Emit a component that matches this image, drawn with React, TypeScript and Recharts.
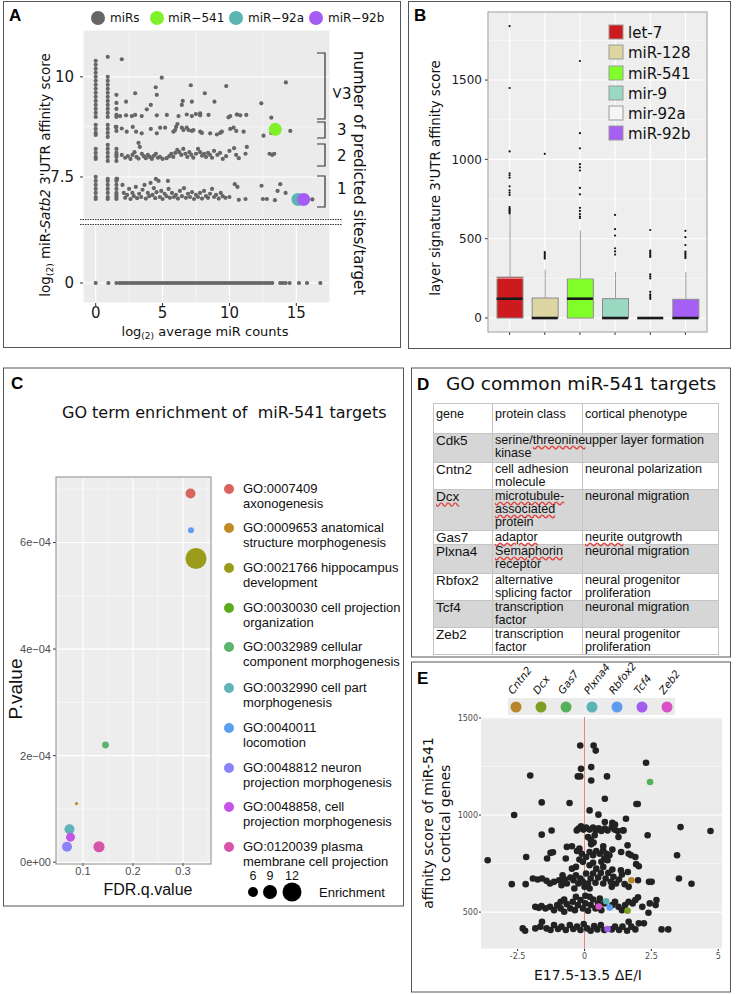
import React from "react";
import {
  Bar,
  CartesianGrid,
  Cell,
  ComposedChart,
  ReferenceLine,
  Scatter,
  ScatterChart,
  XAxis,
  YAxis,
  ZAxis
} from "recharts";

const DJ = "'DejaVu Sans', sans-serif";
const HV = "'Liberation Sans', Arial, sans-serif";

// ---------- Panel A: miR affinity vs. counts ----------
const aColumnX = [0, 0.9, 1.55];
const aColumn0 = [10.4, 10.3, 10.2, 10.1, 10.0, 9.9, 9.8, 9.7, 9.6, 9.5, 9.4, 9.3, 9.2, 9.1, 9.0, 8.8, 8.7, 8.6, 8.55, 8.2, 8.1, 8.0, 7.95, 7.5, 7.4, 7.3, 7.2, 7.1, 7.0, 6.95];
const aColumn1 = [10.5, 10.0, 9.9, 9.8, 9.7, 9.6, 9.5, 9.4, 9.3, 9.2, 9.1, 9.0, 8.8, 8.7, 8.6, 8.5, 8.3, 8.2, 8.1, 8.0, 7.9, 7.45, 7.4, 7.3, 7.2, 7.1, 7.0, 6.95];
const aColumn2 = [9.55, 9.35, 9.2, 9.05, 9.0, 8.75, 8.65, 8.2, 8.1, 8.05, 8.0, 7.9, 7.45, 7.4, 7.3, 7.2, 7.1, 7.05, 7.0, 6.95];
const aSitesMore: [number, number][] = [
  [1.95, 10.44], [2.27, 9.38], [2.95, 9.59], [3.82, 9.19], [4.12, 9.3], [4.49, 9.74], [4.57, 9.55], [4.94, 9.98],
  [6.44, 9.3], [6.51, 9.4], [7.11, 9.79], [7.19, 9.38], [7.49, 9.07], [7.81, 9.09], [8.16, 9.59], [8.88, 9.38],
  [9.76, 9.77], [9.93, 8.99], [10.56, 9.06], [12.38, 9.34], [13.13, 8.98], [14.22, 9.86],
  [1.82, 9.02], [2.27, 9.04], [2.7, 9.02], [2.95, 9.05], [3.44, 9.02], [4.57, 9.04], [5.32, 9.05], [6.19, 9.02],
  [6.81, 9.06], [7.19, 9.02], [7.81, 9.04], [8.44, 9.05], [10.06, 9.02], [10.56, 9.06], [10.81, 9.04], [11.26, 9.05]
];
const aSites3: [number, number][] = [
  [1.5, 8.75], [1.95, 8.71], [2.32, 8.63], [2.77, 8.75], [3.02, 8.63], [3.44, 8.59], [4.12, 8.7], [4.57, 8.59],
  [4.82, 8.73], [5.19, 8.73], [5.81, 8.63], [5.94, 8.67], [6.01, 8.75], [6.11, 8.82], [6.44, 8.73], [6.56, 8.67],
  [6.81, 8.73], [6.94, 8.67], [7.19, 8.65], [7.31, 8.67], [7.81, 8.63], [7.94, 8.6], [8.56, 8.59], [9.06, 8.56],
  [9.31, 8.6], [9.43, 8.63], [10.06, 8.7], [10.31, 8.73], [10.51, 8.65], [11.06, 8.63], [12.55, 8.53], [13.13, 8.6],
  [14.55, 8.65]
];
const aSites2: [number, number][] = [
  [1.95, 8.05], [2.2, 7.98], [2.4, 8.02], [2.6, 7.95], [2.75, 8.05], [2.9, 8.12], [3.05, 8.0], [3.2, 7.96],
  [3.3, 8.25], [3.45, 8.08], [3.6, 8.02], [3.75, 7.97], [3.9, 8.05], [4.05, 8.0], [4.2, 7.95], [4.35, 8.03],
  [4.5, 8.08], [4.65, 7.98], [4.8, 8.0], [5.0, 7.95], [5.3, 7.97], [5.5, 8.02], [5.65, 8.08], [5.8, 8.0],
  [5.95, 8.1], [6.1, 8.18], [6.25, 8.12], [6.4, 8.05], [6.55, 8.2], [6.7, 8.08], [6.85, 8.0], [7.0, 8.12],
  [7.15, 8.05], [7.3, 7.98], [7.5, 8.08], [7.65, 8.2], [7.8, 8.12], [7.95, 8.03], [8.1, 8.08], [8.25, 8.0],
  [8.4, 8.1], [8.55, 8.05], [8.7, 7.98], [8.85, 8.15], [9.1, 8.05], [9.3, 8.1], [9.5, 7.95], [9.75, 8.02],
  [10.0, 8.15], [10.35, 8.22], [10.5, 8.05], [10.7, 7.97], [11.3, 8.25], [11.2, 8.08], [13.0, 8.08], [13.2, 8.05],
  [13.35, 8.08], [3.2, 8.35]
];
const aSites1: [number, number][] = [
  [2.0, 7.3], [2.1, 7.1], [2.2, 6.98], [2.35, 7.05], [2.5, 7.2], [2.6, 6.95], [2.75, 7.1], [2.85, 7.02],
  [3.0, 7.25], [3.1, 6.97], [3.25, 7.08], [3.4, 7.0], [3.5, 7.18], [3.65, 7.3], [3.75, 6.96], [3.9, 7.1],
  [4.0, 7.02], [4.1, 7.35], [4.25, 7.05], [4.35, 7.22], [4.45, 6.97], [4.55, 7.12], [4.7, 7.4], [4.8, 7.0],
  [4.9, 7.15], [5.0, 6.95], [5.15, 7.08], [5.3, 7.02], [5.45, 7.2], [5.55, 6.98], [5.7, 7.1], [5.85, 7.0],
  [6.0, 7.05], [6.15, 6.96], [6.3, 7.15], [6.45, 7.02], [6.6, 7.22], [6.75, 6.98], [6.9, 7.08], [7.05, 7.0],
  [7.2, 7.12], [7.35, 6.95], [7.5, 7.05], [7.65, 7.0], [7.8, 7.1], [7.95, 6.96], [8.1, 7.15], [8.25, 7.02],
  [8.4, 6.98], [8.55, 7.08], [8.7, 7.2], [8.85, 7.0], [9.0, 7.05], [9.2, 6.96], [9.35, 7.1], [9.5, 7.02],
  [9.7, 6.98], [10.0, 7.0], [10.4, 7.32], [10.6, 7.25], [10.7, 6.93], [11.2, 6.95], [12.4, 7.28], [12.5, 6.95],
  [12.8, 6.95], [13.4, 6.92], [13.6, 7.15], [13.8, 7.32], [14.2, 7.1], [16.2, 6.94], [1.6, 7.45], [4.5, 7.45],
  [5.4, 7.4]
];
const aZeroRowX = [0, 0.95, 1.55, 1.8, 2.0, 2.2, 2.4, 2.6, 2.8, 3.0, 3.2, 3.4, 3.6, 3.8, 4.0, 4.2, 4.4, 4.6, 4.8, 5.0, 5.2, 5.4, 5.6, 5.8, 6.0, 6.2, 6.4, 6.6, 6.8, 7.0, 7.2, 7.4, 7.6, 7.8, 8.0, 8.2, 8.4, 8.6, 8.8, 9.0, 9.2, 9.4, 9.6, 9.8, 10.0, 10.2, 10.4, 10.6, 10.8, 11.0, 11.2, 11.4, 11.6, 11.8, 12.0, 12.2, 12.4, 12.6, 12.8, 13.0, 13.2, 13.8, 14.0, 14.2, 14.5, 15.2, 15.8, 16.8];
const aHighlightNames = ["miR\u2212541", "miR\u221292a", "miR\u221292b"];
const aHighlightX = [13.43, 15.12, 15.55];
const aHighlightY = [8.69, 6.94, 6.94];
const aHighlightColors = ["#7FF02A", "#5BB5B5", "#A45CF3"];

// ---------- Panel B: layer signature boxplots ----------
const boxGroups = ["let-7", "miR-128", "miR-541", "mir-9", "mir-92a", "miR-92b"];
const boxFill = ["#CC1A1F", "#DED6A2", "#80FF2A", "#9AD8C2", "#F5F5F5", "#A55FF5"];
const boxQ1 = [0, 0, 0, 0, 0, 0];
const boxMedian = [122, 0, 122, 0, 0, 0];
const boxQ3 = [258, 126, 248, 122, 0, 118];
const boxUpper = [657, 305, 552, 290, 0, 290];
const boxOutliers = [
  [660, 668, 675, 683, 690, 700, 775, 790, 805, 830, 885, 900, 912, 1050, 1450, 1840],
  [375, 385, 395, 405, 415, 1035],
  [630, 640, 655, 675, 695, 780, 820, 930, 950, 970, 1070, 1165, 1620],
  [400, 420, 440, 520, 560, 650],
  [120, 130, 140, 150, 165, 250, 262, 275, 385, 395, 405, 415, 425, 555],
  [378, 388, 398, 408, 418, 460, 510, 550]
];

// ---------- Panel C: GO enrichment ----------
const goLine1 = ["GO:0007409", "GO:0009653 anatomical", "GO:0021766 hippocampus", "GO:0030030 cell projection", "GO:0032989 cellular", "GO:0032990 cell part", "GO:0040011", "GO:0048812 neuron", "GO:0048858, cell", "GO:0120039 plasma"];
const goLine2 = ["axonogenesis", "structure morphogenesis", "development", "organization", "component morphogenesis", "morphogenesis", "locomotion", "projection morphogenesis", "projection morphogenesis", "membrane cell projection"];
const goColors = ["#D9645E", "#C08A27", "#9C9C1C", "#5AAB1E", "#5DB46E", "#5FB4B8", "#5C9EEF", "#8C82FA", "#C653E8", "#D655A8"];
const goFdr = [0.315, 0.087, 0.326, 0.066, 0.145, 0.073, 0.316, 0.068, 0.075, 0.132];
const goPValue = [0.000692, 0.00011, 0.00057, 0.000062, 0.00022, 0.000062, 0.000623, 0.000029, 0.000047, 0.000029];
const goEnrichment = [6, 3.6, 15.2, 3.5, 4.6, 6, 4.3, 6, 5.5, 6.7];
const enrichLegend = [6, 9, 12];

// ---------- Panel D: common targets table ----------
const tblGenes = ["Cdk5", "Cntn2", "Dcx", "Gas7", "Plxna4", "Rbfox2", "Tcf4", "Zeb2"];
const tblClass = [["serine/", "threonine", "", "kinase"], ["cell adhesion", "molecule"], ["microtubule-", "associated", "protein"], ["adaptor"], ["Semaphorin", "receptor"], ["alternative", "splicing factor"], ["transcription", "factor"], ["transcription", "factor"]];
const tblPhenotype = [["upper layer formation"], ["neuronal polarization"], ["neuronal migration"], ["neurite outgrowth"], ["neuronal migration"], ["neural progenitor", "proliferation"], ["neuronal migration"], ["neural progenitor", "proliferation"]];
const tblRowHeights = [29, 27, 41, 13, 29, 26, 27, 27];

// ---------- Panel E: affinity vs. ΔE/I ----------
const ePoints: [number, number][] = [
  [-0.16, 1358], [0.34, 1358], [0.42, 1332], [2.3, 1269], [-2.03, 1204], [-0.13, 1238], [0.25, 1247], [-0.25, 1199],
  [-0.16, 1199], [0.25, 1178], [0.84, 1199], [0.76, 1084], [-1.6, 1065], [-0.56, 1062], [1.94, 1057], [1.99, 1057],
  [0.19, 1024], [0.52, 1002], [-2.63, 1000], [1.55, 981], [0.76, 964], [1.04, 960], [1.14, 951], [3.59, 938],
  [4.71, 918], [-1.23, 920], [-1.6, 899], [2.36, 896], [1.27, 887], [1.43, 920],
  [-0.22, 930], [-0.13, 942], [-0.04, 925], [0.06, 935], [0.19, 925], [0.32, 935], [0.42, 921], [0.53, 932],
  [0.63, 918], [0.76, 930], [0.86, 921], [1.02, 938], [1.12, 925], [1.24, 918], [1.46, 921], [0.13, 887],
  [0.23, 873], [0.38, 896], [-0.29, 921],
  [-3.62, 767], [-2.18, 784], [-1.4, 776], [-1.18, 808], [-1.27, 805], [-0.7, 776], [-0.66, 836], [-0.47, 839],
  [-0.28, 815], [-0.19, 827], [-0.1, 801], [0.06, 784], [0.19, 810], [0.32, 793], [0.44, 815], [0.57, 801],
  [0.7, 819], [0.82, 801], [0.93, 793], [1.04, 822], [1.37, 810], [1.65, 801], [1.74, 793], [1.9, 784],
  [3.46, 793], [0.25, 849], [0.34, 858], [0.7, 839], [1.61, 844], [-0.19, 771], [-0.06, 759], [0.19, 741],
  [0.32, 754], [0.74, 776], [0.86, 767], [0.63, 759], [-0.47, 724], [-0.32, 733], [0.44, 724], [0.7, 733],
  [1.04, 719], [1.36, 716], [1.62, 707], [1.93, 747], [2.03, 736],
  [-2.72, 644], [-2.2, 644], [-1.93, 673], [-1.75, 668], [-1.59, 673], [-1.42, 661], [-1.29, 647], [-1.14, 656],
  [-0.95, 664], [-0.82, 690], [-0.66, 647], [-0.53, 678], [-0.41, 664], [-0.32, 690], [-0.23, 647], [-0.15, 673],
  [-0.06, 656], [0.06, 699], [0.13, 647], [0.23, 673], [0.32, 699], [0.41, 651], [0.51, 678], [0.61, 702],
  [0.7, 647], [0.79, 673], [0.89, 702], [0.98, 656], [1.08, 682], [1.18, 647], [1.29, 668], [1.4, 694],
  [1.5, 644], [1.65, 630], [2.0, 664], [2.41, 656], [2.51, 656], [3.53, 673], [4.0, 646], [-0.86, 639],
  [-0.74, 668], [0.0, 630], [0.19, 622], [1.02, 630], [-0.38, 622], [0.03, 584],
  [-1.84, 527], [-1.71, 522], [-1.61, 531], [-1.46, 519], [-1.29, 527], [-1.14, 510], [-1.02, 536], [-0.89, 519],
  [-0.76, 502], [-0.66, 541], [-0.53, 519], [-0.44, 553], [-0.36, 510], [-0.25, 536], [-0.15, 562], [-0.06, 519],
  [0.03, 545], [0.13, 507], [0.23, 536], [0.32, 565], [0.41, 519], [0.51, 545], [0.63, 510], [0.74, 545],
  [1.04, 536], [1.14, 553], [1.27, 527], [1.4, 510], [1.52, 536], [1.65, 553], [1.8, 545], [1.9, 562],
  [2.0, 576], [2.16, 527], [2.44, 545], [2.39, 497], [2.66, 536], [2.69, 562], [-0.89, 553], [-0.76, 565],
  [-0.32, 579], [0.19, 579], [0.57, 570],
  [-2.31, 416], [-2.22, 404], [-1.84, 416], [-1.65, 425], [-1.59, 450], [-1.42, 416], [-1.27, 408], [-1.14, 433],
  [-0.99, 413], [-0.86, 425], [-0.7, 408], [-0.55, 433], [-0.42, 413], [-0.28, 425], [-0.15, 408], [-0.03, 438],
  [0.1, 416], [0.23, 404], [0.36, 428], [0.48, 411], [0.61, 433], [0.74, 408], [1.02, 411], [1.14, 425],
  [1.29, 408], [1.42, 425], [1.59, 404], [1.75, 425], [1.9, 411], [2.03, 442], [2.22, 442], [2.88, 411],
  [3.13, 411], [1.65, 450]
];
const eGenes = ["Cntn2", "Dcx", "Gas7", "Plxna4", "Rbfox2", "Tcf4", "Zeb2"];
const eGeneColors = ["#B8862A", "#7E9E22", "#55B05A", "#5BB3B6", "#5B9BF0", "#A35CF0", "#D851C6"];
const eGeneX = [1.75, 1.61, 2.45, 0.81, 0.94, 0.86, 0.53];
const eGeneY = [664, 507, 1170, 556, 524, 413, 529];

// ---------- helpers ----------
const dot = (r: number, fill: string) => (p: any) =>
  p.cx == null ? <g /> : <circle cx={p.cx} cy={p.cy} r={r} fill={fill} />;

const Abs = ({ x, y, children }: { x: number; y: number; children: React.ReactNode }) => (
  <div style={{ position: "absolute", left: x, top: y }}>{children}</div>
);

const Overlay = ({ children }: { children: React.ReactNode }) => (
  <svg width={736} height={994} style={{ position: "absolute", left: 0, top: 0, pointerEvents: "none" }}>
    {children}
  </svg>
);

const Letter = ({ x, y, t }: { x: number; y: number; t: string }) => (
  <text x={x} y={y} fontFamily={HV} fontWeight={700} fontSize={17} fill="#000">{t}</text>
);

function PanelA() {
  const upper = [
    ...aColumn0.map((y) => ({ x: aColumnX[0], y })),
    ...aColumn1.map((y) => ({ x: aColumnX[1], y })),
    ...aColumn2.map((y) => ({ x: aColumnX[2], y })),
    ...[...aSitesMore, ...aSites3, ...aSites2, ...aSites1].map(([x, y]) => ({ x, y }))
  ];
  const zeroRow = aZeroRowX.map((x) => ({ x, y: 0 }));
  const tickStyle = { fill: "#1a1a1a", fontSize: 15, fontFamily: DJ };
  const brackets = [[53, 119], [122, 138], [144, 166], [176, 207]];
  return (
    <>
      <Abs x={0} y={20}>
        <ScatterChart width={335} height={199} margin={{ top: 10, right: 5, bottom: 0, left: 0 }}>
          <CartesianGrid stroke="#fff" strokeWidth={1.1} fill="#EBEBEB" />
          {[2.5, 7.5, 12.5].map((v) => (
            <ReferenceLine key={v} x={v} stroke="#fff" strokeWidth={0.5} />
          ))}
          <ReferenceLine y={8.75} stroke="#fff" strokeWidth={0.5} />
          <XAxis type="number" dataKey="x" domain={[-0.95, 17.52]} ticks={[0, 5, 10, 15]} height={0} tick={false} axisLine={false} tickLine={false} />
          <YAxis type="number" dataKey="y" domain={[6.45, 11.17]} ticks={[7.5, 10]} width={83} axisLine={false} tickSize={3} tickMargin={6} tickLine={{ stroke: "#333" }} tick={tickStyle} />
          <Scatter data={upper} shape={dot(2.1, "#666")} isAnimationActive={false} />
          {aHighlightNames.map((n, i) => (
            <Scatter key={n} data={[{ x: aHighlightX[i], y: aHighlightY[i] }]} shape={dot(6.5, aHighlightColors[i])} isAnimationActive={false} />
          ))}
        </ScatterChart>
      </Abs>
      <Abs x={0} y={220}>
        <ScatterChart width={335} height={120} margin={{ top: 5, right: 5, bottom: 7, left: 0 }}>
          <CartesianGrid stroke="#fff" strokeWidth={1.1} fill="#EBEBEB" />
          {[2.5, 7.5, 12.5].map((v) => (
            <ReferenceLine key={v} x={v} stroke="#fff" strokeWidth={0.5} />
          ))}
          <XAxis type="number" dataKey="x" domain={[-0.95, 17.52]} ticks={[0, 5, 10, 15]} height={30} axisLine={false} tickSize={3} tickMargin={1} tickLine={{ stroke: "#333" }} tick={tickStyle} />
          <YAxis type="number" dataKey="y" domain={[-0.5, 1.45]} ticks={[0]} width={83} axisLine={false} tickSize={3} tickMargin={6} tickLine={{ stroke: "#333" }} tick={tickStyle} />
          <Scatter data={zeroRow} shape={dot(2.1, "#666")} isAnimationActive={false} />
        </ScatterChart>
      </Abs>
      <Overlay>
        <rect x={3.5} y={1.5} width={397} height={346} fill="none" stroke="#555" />
        <Letter x={9} y={21} t="A" />
        <line x1={80} x2={342} y1={219.5} y2={219.5} stroke="#333" strokeDasharray="1.5 1" />
        <line x1={80} x2={342} y1={224.5} y2={224.5} stroke="#333" strokeDasharray="1.5 1" />
        <g fontFamily={DJ} fontSize={12} fill="#111">
          <circle cx={98} cy={18} r={7} fill="#666" />
          <text x={110} y={22}>miRs</text>
          {aHighlightNames.map((n, i) => (
            <g key={n}>
              <circle cx={[157, 236, 316][i]} cy={18} r={7} fill={aHighlightColors[i]} />
              <text x={[168, 248, 328][i]} y={22}>{n}</text>
            </g>
          ))}
        </g>
        {brackets.map(([a, b], i) => (
          <path key={i} d={`M317,${a} H325 V${b} H317`} fill="none" stroke="#333" strokeWidth={1.2} />
        ))}
        <g fontFamily={DJ} fontSize={15} fill="#111">
          <text transform="translate(337,93) rotate(90)" textAnchor="middle" dominantBaseline="central">&gt;</text>
          <text x={342} y={99}>3</text>
          <text x={337} y={135}>3</text>
          <text x={337} y={161}>2</text>
          <text x={337} y={194}>1</text>
          <text transform="translate(354,173) rotate(90)" textAnchor="middle">number of predicted sites/target</text>
        </g>
        <text transform="translate(50,175) rotate(-90)" textAnchor="middle" fontFamily={DJ} fontSize={13.5} fill="#111">
          log<tspan dy={3} fontSize={9}>(2)</tspan>
          <tspan dy={-3}> miR-</tspan>
          <tspan fontStyle="italic">Satb2</tspan> 3'UTR affinity score
        </text>
        <text x={205} y={336} textAnchor="middle" fontFamily={DJ} fontSize={13} fill="#111">
          log<tspan dy={3} fontSize={9}>(2)</tspan>
          <tspan dy={-3}> average miR counts</tspan>
        </text>
      </Overlay>
    </>
  );
}

function PanelB() {
  const rows = boxGroups.map((name, i) => ({
    name,
    base: boxQ1[i],
    box: boxQ3[i] - boxQ1[i],
    whisker: boxUpper[i] - boxQ3[i],
    fill: boxFill[i]
  }));
  const medians = boxGroups.map((name, i) => ({ name, median: boxMedian[i] }));
  const outliers = boxGroups.flatMap((name, i) => boxOutliers[i].map((value) => ({ name, value })));
  const boxShape = (p: any) => (
    <rect x={p.x} y={p.y} width={p.width} height={Math.max(p.height, 0)} fill={p.payload.fill} stroke="#8a8a8a" strokeWidth={1} />
  );
  const whiskerShape = (p: any) => (
    <line x1={p.x + p.width / 2} x2={p.x + p.width / 2} y1={p.y} y2={p.y + p.height} stroke="#9a9a9a" strokeWidth={1} />
  );
  const medianShape = (p: any) => (
    <line x1={p.cx - 13} x2={p.cx + 13} y1={p.cy} y2={p.cy} stroke="#1a1a1a" strokeWidth={2.6} />
  );
  return (
    <>
      <Abs x={370} y={0}>
        <ComposedChart width={340} height={340} data={rows} margin={{ top: 12, right: 3, bottom: 3, left: 0 }}>
          <CartesianGrid stroke="#fff" strokeWidth={1.1} fill="#EEEEEE" />
          {[250, 750, 1250, 1750].map((v) => (
            <ReferenceLine key={v} y={v} stroke="#fff" strokeWidth={0.5} />
          ))}
          <XAxis dataKey="name" type="category" allowDuplicatedCategory={false} height={5} padding={{ left: 4, right: 4 }} axisLine={false} tickSize={3} tickLine={{ stroke: "#333" }} tickFormatter={() => ""} />
          <YAxis type="number" domain={[-88, 1929]} ticks={[0, 500, 1000, 1500]} width={118} allowDataOverflow axisLine={false} tickSize={3} tickMargin={3} tickLine={{ stroke: "#333" }} tick={{ fill: "#1a1a1a", fontSize: 12, fontFamily: DJ }} />
          <Bar dataKey="base" stackId="b" barSize={26} fill="none" isAnimationActive={false} />
          <Bar dataKey="box" stackId="b" barSize={26} shape={boxShape} isAnimationActive={false} />
          <Bar dataKey="whisker" stackId="b" barSize={26} shape={whiskerShape} isAnimationActive={false} />
          <Scatter data={outliers} dataKey="value" shape={dot(1.1, "#111")} isAnimationActive={false} />
          <Scatter data={medians} dataKey="median" shape={medianShape} isAnimationActive={false} />
        </ComposedChart>
      </Abs>
      <Overlay>
        <rect x={408.5} y={1.5} width={322} height={347} fill="none" stroke="#555" />
        <rect x={488} y={12} width={219} height={320} fill="none" stroke="#999" />
        <Letter x={414} y={21} t="B" />
        <g fontFamily={DJ} fontSize={15} fill="#111">
          {boxGroups.map((g, i) => (
            <g key={g}>
              <rect x={609} y={[32, 52, 73, 93, 113, 133][i] - 7} width={14} height={14} fill={boxFill[i]} stroke="#999" />
              <text x={628} y={[32, 52, 73, 93, 113, 133][i] + 5.5}>{g}</text>
            </g>
          ))}
        </g>
        <text transform="translate(440,178) rotate(-90)" textAnchor="middle" fontFamily={DJ} fontSize={13.4} fill="#111">
          layer signature 3'UTR affinity score
        </text>
      </Overlay>
    </>
  );
}

function PanelC() {
  const points = goLine1.map((t, i) => ({ term: t, fdr: goFdr[i], p: goPValue[i], enrich: goEnrichment[i] }));
  const legendY = [489, 528, 568, 608, 647, 688, 728, 768, 807, 847];
  const tick = { fill: "#4D4D4D", fontSize: 11, fontFamily: HV };
  return (
    <>
      <Abs x={0} y={470}>
        <ScatterChart width={215} height={420} margin={{ top: 7, right: 4, bottom: 7, left: 0 }}>
          <CartesianGrid stroke="#fff" strokeWidth={1.1} fill="#EDEDED" />
          {[0.05, 0.15, 0.25, 0.35].map((v) => (
            <ReferenceLine key={v} x={v} stroke="#fff" strokeWidth={0.5} />
          ))}
          {[0.0001, 0.0003, 0.0005, 0.0007].map((v) => (
            <ReferenceLine key={v} y={v} stroke="#fff" strokeWidth={0.5} />
          ))}
          <XAxis type="number" dataKey="fdr" domain={[0.046, 0.356]} ticks={[0.1, 0.2, 0.3]} height={20} axisLine={false} tickSize={3} tickMargin={1} tickLine={{ stroke: "#333" }} tick={tick} />
          <YAxis type="number" dataKey="p" domain={[-0.0000015, 0.000723]} ticks={[0, 0.0002, 0.0004, 0.0006]} width={56} axisLine={false} tickSize={3} tickMargin={2} tickLine={{ stroke: "#333" }} tick={tick}
            tickFormatter={(v: number) => (v === 0 ? "0e+00" : `${Math.round(v * 10000)}e\u221204`)} />
          <ZAxis type="number" dataKey="enrich" domain={[3.35, 16]} range={[0.3, 371.3]} />
          <Scatter data={points} isAnimationActive={false}>
            {points.map((pt, i) => (
              <Cell key={pt.term} fill={goColors[i]} />
            ))}
          </Scatter>
        </ScatterChart>
      </Abs>
      <Overlay>
        <rect x={3.5} y={368} width={400} height={538} fill="none" stroke="#555" />
        <rect x={56} y={477} width={155} height={387} fill="none" stroke="#888" />
        <Letter x={11} y={389} t="C" />
        <text x={62} y={418} fontFamily={DJ} fontSize={16} fill="#111" xmlSpace="preserve">GO term enrichment of  miR-541 targets</text>
        <g fontFamily={HV} fontSize={13} fill="#111">
          {goLine1.map((t, i) => (
            <g key={t}>
              <circle cx={229} cy={legendY[i]} r={5} fill={goColors[i]} />
              <text x={243} y={legendY[i] + 4}>{t}</text>
              <text x={243} y={legendY[i] + 18.5}>{goLine2[i]}</text>
            </g>
          ))}
          {enrichLegend.map((v, i) => (
            <g key={v}>
              <text x={[253, 270, 292][i]} y={880} textAnchor="middle" fontSize={12.5}>{v}</text>
              <circle cx={[253, 270, 292][i]} cy={892} r={[5, 7, 9.5][i]} fill="#000" />
            </g>
          ))}
          <text x={319} y={897}>Enrichment</text>
        </g>
        <text transform="translate(22,689) rotate(-90)" textAnchor="middle" fontFamily={HV} fontSize={19} fill="#111">P.value</text>
        <text x={148} y={895} textAnchor="middle" fontFamily={HV} fontSize={16} fill="#111">FDR.q.value</text>
      </Overlay>
    </>
  );
}

function PanelD() {
  const wavy: React.CSSProperties = { textDecoration: "underline wavy #e0403a", textUnderlineOffset: 1 };
  const flagged = new Set(["threonine", "microtubule-", "associated", "adaptor", "Semaphorin", "neurite", "Dcx"]);
  const renderLines = (lines: string[]) => {
    const out: React.ReactNode[] = [];
    lines.forEach((l, i) => {
      if (l === "") return;
      const words = l.split(" ");
      out.push(
        <span key={i}>
          {words.map((w, j) => (
            <span key={j}>
              {j > 0 ? " " : ""}
              <span style={flagged.has(w) ? wavy : undefined}>{w}</span>
            </span>
          ))}
        </span>
      );
      const next = lines[i + 1];
      if (i < lines.length - 1 && next !== "" && !(l.endsWith("/"))) out.push(<br key={"b" + i} />);
      if (next === "") out.push(<br key={"b" + i} />);
    });
    return out;
  };
  const cell: React.CSSProperties = { border: "1px solid #C4C4C4", padding: "0 2px", verticalAlign: "top", whiteSpace: "nowrap", overflow: "visible", lineHeight: "13px" };
  return (
    <>
      <Abs x={433} y={403}>
        <table style={{ width: 285, tableLayout: "fixed", borderCollapse: "collapse", fontFamily: HV, fontSize: 12.6, lineHeight: "13px", color: "#111" }}>
          <colgroup>
            <col style={{ width: 59 }} />
            <col style={{ width: 90 }} />
            <col style={{ width: 136 }} />
          </colgroup>
          <tbody>
            <tr style={{ height: 30, background: "#fff" }}>
              <td style={{ ...cell, paddingTop: 4 }}>gene</td>
              <td style={{ ...cell, paddingTop: 4 }}>protein class</td>
              <td style={{ ...cell, paddingTop: 4 }}>cortical phenotype</td>
            </tr>
            {tblGenes.map((g, i) => (
              <tr key={g} style={{ height: tblRowHeights[i], background: i % 2 === 0 ? "#D6D6D6" : "#fff" }}>
                <td style={{ ...cell, fontSize: 13.5 }}>
                  <span style={g === "Dcx" ? wavy : undefined}>{g}</span>
                </td>
                <td style={cell}>{renderLines(tblClass[i])}</td>
                <td style={cell}>{renderLines(tblPhenotype[i])}</td>
              </tr>
            ))}
          </tbody>
        </table>
      </Abs>
      <Overlay>
        <rect x={411.5} y={368} width={319} height={289} fill="none" stroke="#555" />
        <Letter x={417} y={390} t="D" />
        <text x={446} y={390} fontFamily={DJ} fontSize={18.5} fill="#111">GO common miR-541 targets</text>
      </Overlay>
    </>
  );
}

function PanelE() {
  const black = ePoints.map(([x, y]) => ({ x, y }));
  const legendX = [516, 541, 566, 592, 617, 642, 667];
  const tick = { fill: "#4D4D4D", fontSize: 8, fontFamily: DJ };
  return (
    <>
      <Abs x={413} y={710}>
        <ScatterChart width={315} height={260} margin={{ top: 7, right: 6, bottom: 1, left: 0 }}>
          <CartesianGrid stroke="#fff" strokeWidth={1.1} fill="#EBEBEB" vertical={false} />
          {[750, 1250].map((v) => (
            <ReferenceLine key={v} y={v} stroke="#fff" strokeWidth={0.5} />
          ))}
          <XAxis type="number" dataKey="x" domain={[-3.87, 5.14]} ticks={[-2.5, 0, 2.5, 5]} height={20} axisLine={false} tickSize={2} tickMargin={2} tickLine={{ stroke: "#333" }} tick={tick} />
          <YAxis type="number" dataKey="y" domain={[310, 1505]} ticks={[500, 1000, 1500]} width={68} axisLine={false} tickSize={2} tickMargin={1} tickLine={{ stroke: "#333" }} tick={tick} />
          <ReferenceLine x={0} stroke="#E0897F" strokeWidth={1} />
          <Scatter data={black} shape={dot(3.3, "#222")} isAnimationActive={false} />
          {eGenes.map((g, i) => (
            <Scatter key={g} data={[{ x: eGeneX[i], y: eGeneY[i] }]} shape={dot(3.3, eGeneColors[i])} isAnimationActive={false} />
          ))}
        </ScatterChart>
      </Abs>
      <Overlay>
        <rect x={411.5} y={662} width={319} height={330} fill="none" stroke="#555" />
        <Letter x={417} y={684} t="E" />
        <rect x={508} y={698} width={167} height={17} fill="#EBEBEB" />
        {eGenes.map((g, i) => (
          <g key={g}>
            <circle cx={legendX[i]} cy={707} r={5.5} fill={eGeneColors[i]} />
            <text transform={`translate(${legendX[i] - 3},695) rotate(-52)`} fontFamily={DJ} fontStyle="italic" fontSize={10.5} fill="#111">{g}</text>
          </g>
        ))}
        <g fontFamily={DJ} fontSize={14} fill="#111" textAnchor="middle">
          <text transform="translate(433,823) rotate(-90)">affinity score of miR-541</text>
          <text transform="translate(450,823) rotate(-90)">to cortical genes</text>
          <text x={588} y={980}>E17.5-13.5 ΔE/I</text>
        </g>
      </Overlay>
    </>
  );
}

export default function App() {
  return (
    <div style={{ position: "absolute", left: 0, top: 0, width: 736, height: 994, background: "#fff", overflow: "hidden" }}>
      <PanelA />
      <PanelB />
      <PanelC />
      <PanelD />
      <PanelE />
    </div>
  );
}
